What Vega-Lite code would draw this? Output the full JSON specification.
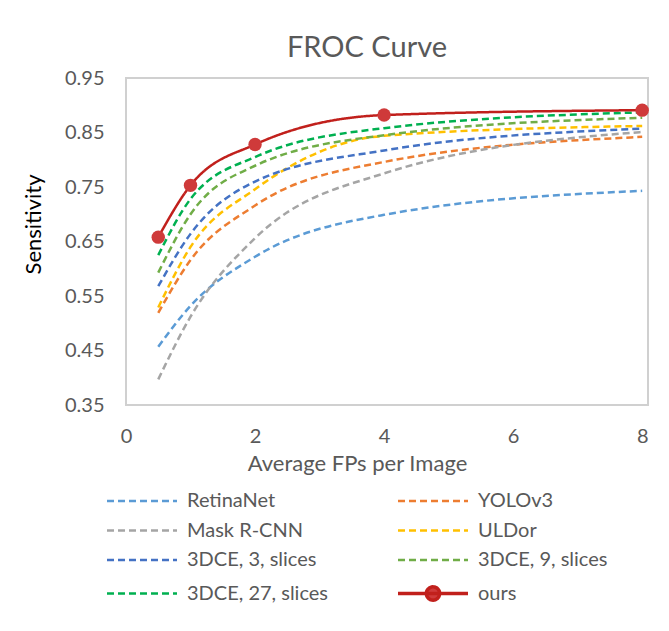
{
  "$schema": "https://vega.github.io/schema/vega-lite/v6.json",
  "width": 522,
  "height": 327,
  "autosize": {"type": "none"},
  "padding": {"left": 126, "top": 78, "right": 21, "bottom": 226},
  "background": "white",
  "title": {"text": "FROC Curve", "fontSize": 29, "font": "Lato", "fontWeight": "normal", "color": "#595959", "offset": 5, "dx": -20},
  "config": {
    "font": "Lato",
    "view": {"stroke": "#D0D0D0", "strokeWidth": 2}
  },
  "data": {"values": [
    {"model": "RetinaNet", "fp": 0.5, "sens": 0.457},
    {"model": "RetinaNet", "fp": 1, "sens": 0.532},
    {"model": "RetinaNet", "fp": 2, "sens": 0.622},
    {"model": "RetinaNet", "fp": 4, "sens": 0.699},
    {"model": "RetinaNet", "fp": 8, "sens": 0.743},
    {"model": "YOLOv3", "fp": 0.5, "sens": 0.519},
    {"model": "YOLOv3", "fp": 1, "sens": 0.616},
    {"model": "YOLOv3", "fp": 2, "sens": 0.716},
    {"model": "YOLOv3", "fp": 4, "sens": 0.796},
    {"model": "YOLOv3", "fp": 8, "sens": 0.842},
    {"model": "Mask R-CNN", "fp": 0.5, "sens": 0.397},
    {"model": "Mask R-CNN", "fp": 1, "sens": 0.512},
    {"model": "Mask R-CNN", "fp": 2, "sens": 0.656},
    {"model": "Mask R-CNN", "fp": 4, "sens": 0.775},
    {"model": "Mask R-CNN", "fp": 8, "sens": 0.851},
    {"model": "ULDor", "fp": 0.5, "sens": 0.529},
    {"model": "ULDor", "fp": 1, "sens": 0.640},
    {"model": "ULDor", "fp": 2, "sens": 0.746},
    {"model": "ULDor", "fp": 4, "sens": 0.844},
    {"model": "ULDor", "fp": 8, "sens": 0.862},
    {"model": "3DCE, 3, slices", "fp": 0.5, "sens": 0.568},
    {"model": "3DCE, 3, slices", "fp": 1, "sens": 0.664},
    {"model": "3DCE, 3, slices", "fp": 2, "sens": 0.760},
    {"model": "3DCE, 3, slices", "fp": 4, "sens": 0.817},
    {"model": "3DCE, 3, slices", "fp": 8, "sens": 0.857},
    {"model": "3DCE, 9, slices", "fp": 0.5, "sens": 0.593},
    {"model": "3DCE, 9, slices", "fp": 1, "sens": 0.700},
    {"model": "3DCE, 9, slices", "fp": 2, "sens": 0.789},
    {"model": "3DCE, 9, slices", "fp": 4, "sens": 0.845},
    {"model": "3DCE, 9, slices", "fp": 8, "sens": 0.877},
    {"model": "3DCE, 27, slices", "fp": 0.5, "sens": 0.625},
    {"model": "3DCE, 27, slices", "fp": 1, "sens": 0.728},
    {"model": "3DCE, 27, slices", "fp": 2, "sens": 0.805},
    {"model": "3DCE, 27, slices", "fp": 4, "sens": 0.858},
    {"model": "3DCE, 27, slices", "fp": 8, "sens": 0.887},
    {"model": "ours", "fp": 0.5, "sens": 0.658},
    {"model": "ours", "fp": 1, "sens": 0.753},
    {"model": "ours", "fp": 2, "sens": 0.828},
    {"model": "ours", "fp": 4, "sens": 0.882},
    {"model": "ours", "fp": 8, "sens": 0.891}
  ]},
  "encoding": {
    "x": {"field": "fp", "type": "quantitative",
      "scale": {"domain": [0, 8.09], "nice": false, "zero": false},
      "axis": {"values": [0, 2, 4, 6, 8], "grid": false, "ticks": false, "domain": false,
        "labelFontSize": 20, "labelColor": "#595959", "labelPadding": 21, "labelFlush": false,
        "title": "Average FPs per Image", "titleFontSize": 22, "titleFontWeight": "normal", "titleColor": "#595959", "titlePadding": 7, "titleX": 231}},
    "y": {"field": "sens", "type": "quantitative",
      "scale": {"domain": [0.35, 0.95], "nice": false, "zero": false},
      "axis": {"values": [0.35, 0.45, 0.55, 0.65, 0.75, 0.85, 0.95], "format": ".2f", "grid": false, "ticks": false, "domain": false,
        "labelFontSize": 20, "labelColor": "#595959", "labelPadding": 22,
        "title": "Sensitivity", "titleFontSize": 22, "titleFontWeight": "normal", "titleColor": "#000000", "titlePadding": 19, "titleY": 146}}
  },
  "layer": [
    {
      "mark": {"type": "line", "interpolate": "monotone", "strokeWidth": 2.5},
      "encoding": {
        "color": {"field": "model", "type": "nominal",
          "scale": {
            "domain": ["RetinaNet", "Mask R-CNN", "3DCE, 3, slices", "3DCE, 27, slices", "YOLOv3", "ULDor", "3DCE, 9, slices", "ours"],
            "range": ["#5B9BD5", "#A5A5A5", "#4472C4", "#00B050", "#ED7D31", "#FFC000", "#70AD47", "#C1201C"]},
          "legend": {"orient": "none", "legendX": 6, "legendY": 413, "columns": 2, "columnPadding": 62, "rowPadding": 9.5,
            "title": null, "symbolType": "stroke", "symbolSize": 4900, "symbolStrokeWidth": 2.5, "symbolDash": [6, 4],
            "labelFontSize": 20, "labelColor": "#595959", "labelOffset": 35,
            "encode": {"symbols": {"update": {
              "shape": {"signal": "datum.value === 'ours' ? 'M-1,0H1M-0.19,0A0.19,0.19,0,1,1,0.19,0A0.19,0.19,0,1,1,-0.19,0Z' : 'stroke'"},
              "fill": {"signal": "datum.value === 'ours' ? '#CF3A3A' : 'transparent'"},
              "strokeDash": {"signal": "datum.value === 'ours' ? [1, 0] : [6, 4]"},
              "strokeWidth": {"signal": "datum.value === 'ours' ? 3.5 : 2.5"}
            }}}}},
        "strokeDash": {"field": "model", "type": "nominal",
          "scale": {
            "domain": ["RetinaNet", "Mask R-CNN", "3DCE, 3, slices", "3DCE, 27, slices", "YOLOv3", "ULDor", "3DCE, 9, slices", "ours"],
            "range": [[7, 4], [7, 4], [7, 4], [7, 4], [7, 4], [7, 4], [7, 4], [1, 0]]},
          "legend": null},
        "strokeWidth": {"condition": {"test": "datum.model === 'ours'", "value": 3.5}, "value": 2.5}
      }
    },
    {
      "transform": [{"filter": "datum.model === 'ours'"}],
      "mark": {"type": "point", "shape": "circle", "filled": true, "opacity": 1, "size": 180, "color": "#CF3A3A"}
    }
  ]
}
